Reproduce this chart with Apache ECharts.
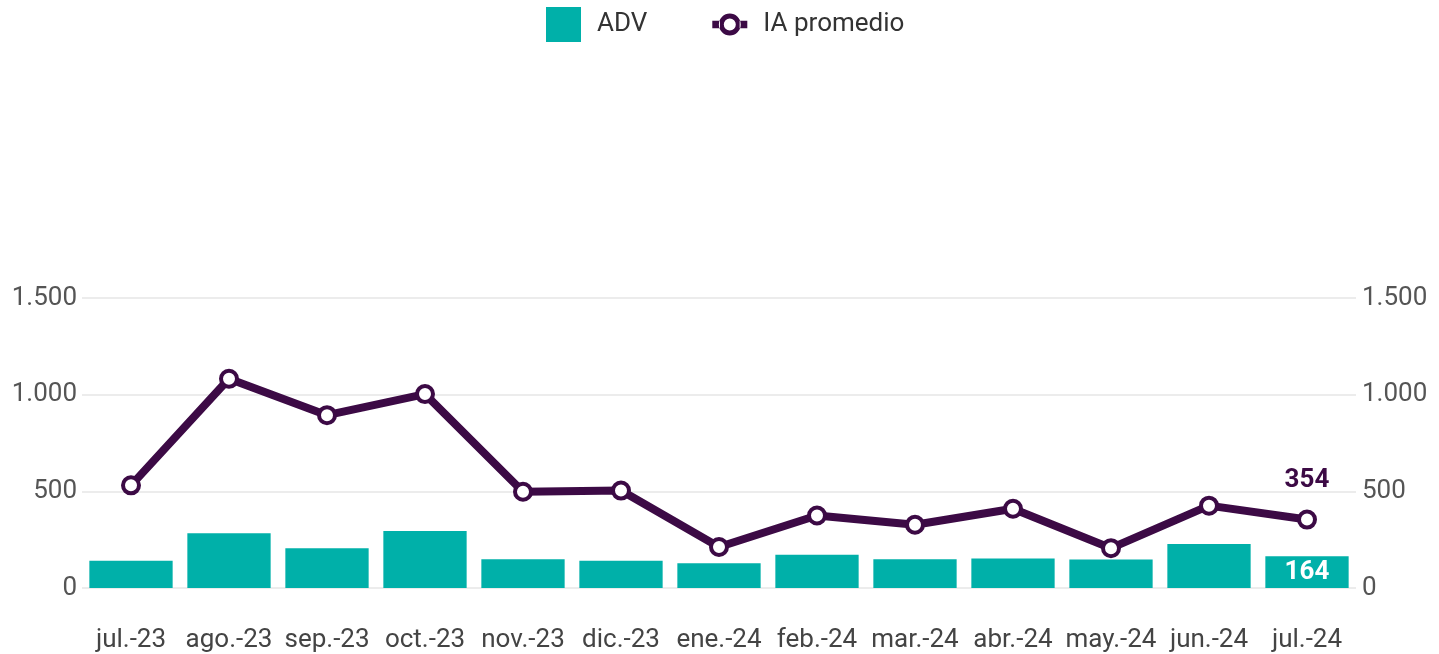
<!DOCTYPE html>
<html>
<head>
<meta charset="utf-8">
<script src="https://cdn.jsdelivr.net/npm/echarts@6/dist/echarts.min.js"></script>
<style>
  html, body { margin: 0; padding: 0; background: #fff; }
  #main { width: 1439px; height: 654px; }
</style>
</head>
<body>
<div id="main"></div>
<script>
// 月份
const months = ["jul.-23", "ago.-23", "sep.-23", "oct.-23", "nov.-23", "dic.-23", "ene.-24",
  "feb.-24", "mar.-24", "abr.-24", "may.-24", "jun.-24", "jul.-24"];
// ADV (barras)
const advValues = [141, 283, 205, 295, 149, 141, 128, 172, 149, 152, 147, 228, 164];
// IA promedio (línea)
const iaValues = [531, 1082, 894, 1003, 498, 504, 212, 375, 327, 410, 206, 426, 354];
const yTicks = [0, 500, 1000, 1500];

const teal = "#00b0a9";
const purple = "#3c0a45";
const fmt = v => String(v).replace(/\B(?=(\d{3})+(?!\d))/g, ".");

// icono de leyenda: línea gruesa con círculo hueco
const lineIcon = "path://M0,6.5 L7,6.5 L7,13.5 L0,13.5 Z M25,6.5 L32,6.5 L32,13.5 L25,13.5 Z " +
  "M6,10 A10,10 0 1,0 26,10 A10,10 0 1,0 6,10 Z M10.5,10 A5.5,5.5 0 1,1 21.5,10 A5.5,5.5 0 1,1 10.5,10 Z";

const last = months.length - 1;
const advData = advValues.map((v, i) => i === last ? {
  value: v,
  label: { show: true, position: "insideTop", distance: 3, color: "#fff", fontWeight: "bold", fontSize: 26 }
} : v);
const iaData = iaValues.map((v, i) => i === last ? {
  value: v,
  label: { show: true, position: "top", distance: 16, color: purple, fontWeight: "bold", fontSize: 26 }
} : v);

const chart = echarts.init(document.getElementById("main"));
const axisLabelStyle = {
  color: "#555",
  fontSize: 26,
  fontFamily: "Roboto",
  formatter: fmt
};
chart.setOption({
  animation: false,
  textStyle: { fontFamily: "Roboto" },
  legend: {
    top: 2,
    left: 541,
    itemWidth: 35,
    itemHeight: 35,
    itemGap: 65,
    textStyle: { fontSize: 26, color: "#333", fontFamily: "Roboto", padding: [0, 0, 0, 11] },
    data: [
      { name: "ADV", icon: "rect" },
      { name: "IA promedio", icon: lineIcon, itemStyle: { color: purple, borderWidth: 0 } }
    ]
  },
  grid: { left: 82, right: 83, top: 298, bottom: 66 },
  xAxis: {
    type: "category",
    data: months,
    axisLine: { show: false },
    axisTick: { show: false },
    axisLabel: { color: "#444", fontSize: 26, margin: 39, interval: 0 }
  },
  yAxis: [
    {
      type: "value",
      min: yTicks[0],
      max: yTicks[yTicks.length - 1],
      interval: 500,
      axisLabel: Object.assign({ margin: 5 }, axisLabelStyle),
      splitLine: { lineStyle: { color: "#e6e6e6", width: 1.5 } },
      axisLine: { show: false },
      axisTick: { show: false }
    },
    {
      type: "value",
      min: yTicks[0],
      max: yTicks[yTicks.length - 1],
      interval: 500,
      axisLabel: Object.assign({ margin: 6 }, axisLabelStyle),
      splitLine: { show: false },
      axisLine: { show: false },
      axisTick: { show: false }
    }
  ],
  series: [
    {
      name: "ADV",
      type: "bar",
      data: advData,
      barCategoryGap: "15%",
      itemStyle: { color: teal }
    },
    {
      name: "IA promedio",
      type: "line",
      data: iaData,
      symbol: "circle",
      symbolSize: 16,
      z: 5,
      lineStyle: { color: purple, width: 8 },
      itemStyle: { color: "#fff", borderColor: purple, borderWidth: 4 }
    }
  ]
});
</script>
</body>
</html>
